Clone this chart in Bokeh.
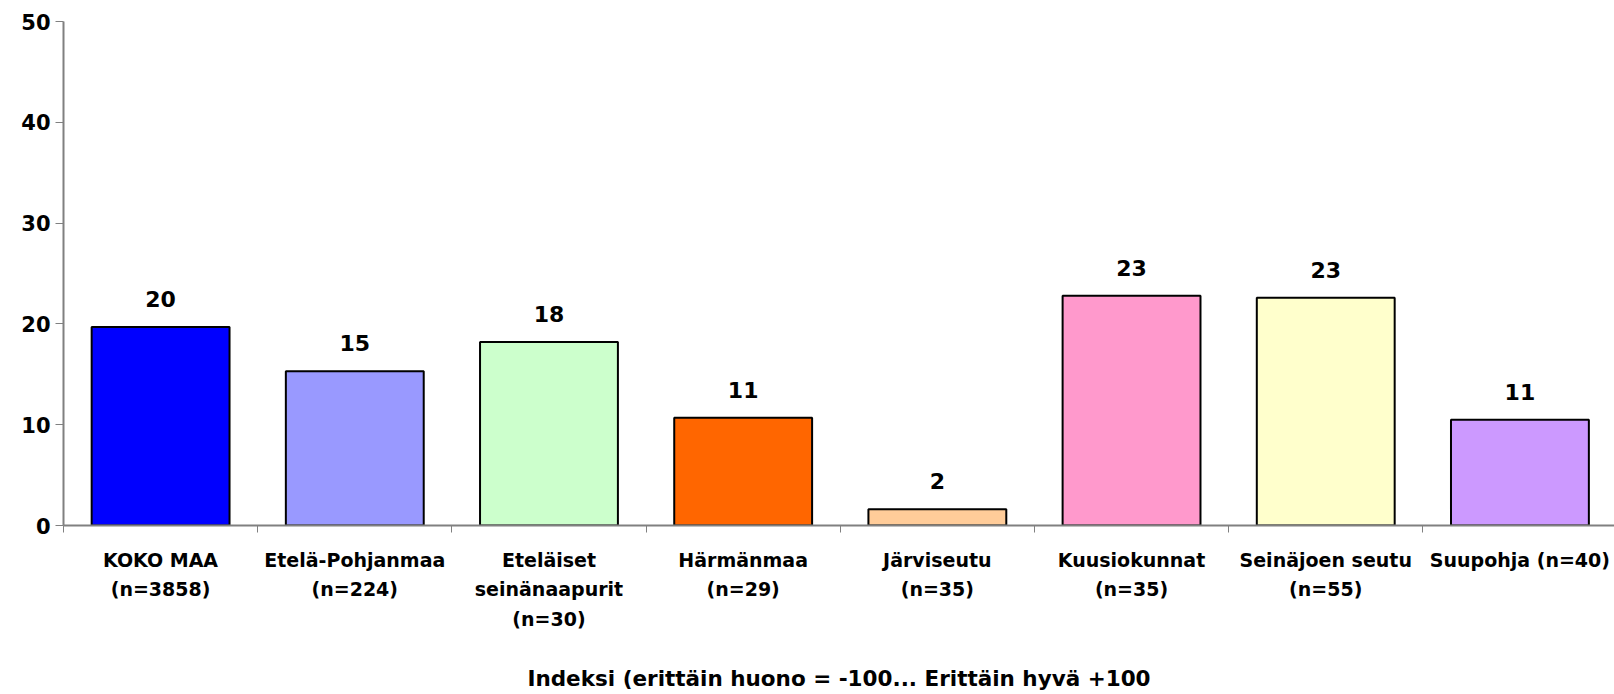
from bokeh.plotting import figure
from bokeh.models import Range1d, FixedTicker, ColumnDataSource
from bokeh.embed import file_html
from bokeh.resources import INLINE
from bokeh.core.properties import value

categories = ["KOKO MAA\n(n=3858)", "Etelä-Pohjanmaa\n(n=224)", "Eteläiset\nseinänaapurit\n(n=30)",
              "Härmänmaa\n(n=29)", "Järviseutu\n(n=35)", "Kuusiokunnat\n(n=35)",
              "Seinäjoen seutu\n(n=55)", "Suupohja (n=40)"]
values = [19.7, 15.3, 18.2, 10.7, 1.6, 22.8, 22.6, 10.5]
value_labels = ["20", "15", "18", "11", "2", "23", "23", "11"]
colors = ["#0000FF", "#9999FF", "#CCFFCC", "#FF6600", "#FFCC99", "#FF99CC", "#FFFFCC", "#CC99FF"]
y_ticks = [0, 10, 20, 30, 40, 50]
axis_title = "Indeksi (erittäin huono = -100... Erittäin hyvä +100"

positions = [i + 0.5 for i in range(len(categories))]
boundaries = list(range(len(categories) + 1))

src = ColumnDataSource(dict(x=positions, top=values, color=colors, label=value_labels))

FONT = "DejaVu Sans"
GRAY = "#808080"

p = figure(width=1614, height=694, x_range=Range1d(0, 7.987), y_range=Range1d(0, 50),
           output_backend="svg", toolbar_location=None,
           min_border_left=63, min_border_right=0, min_border_top=21, min_border_bottom=168)
p.outline_line_color = None
p.xgrid.visible = False
p.ygrid.visible = False

p.vbar(x="x", top="top", width=0.71, fill_color="color", line_color="black", line_width=2, source=src)
p.text(x="x", y="top", text="label", text_align="center", text_baseline="alphabetic", y_offset=-28,
       text_font=value(FONT), text_font_style="bold", text_font_size="22px", text_color="black", source=src)

ya = p.yaxis[0]
ya.ticker = FixedTicker(ticks=y_ticks)
ya.axis_line_color = GRAY
ya.axis_line_width = 2
ya.major_tick_line_color = GRAY
ya.major_tick_line_width = 1
ya.major_tick_out = 8
ya.major_tick_in = 0
ya.minor_tick_line_color = None
ya.major_label_standoff = 5
ya.major_label_text_font = FONT
ya.major_label_text_font_style = "bold"
ya.major_label_text_font_size = "21px"
ya.major_label_text_color = "black"

xa = p.xaxis[0]
xa.ticker = FixedTicker(ticks=positions, minor_ticks=boundaries)
xa.major_label_overrides = {pos: cat for pos, cat in zip(positions, categories)}
xa.axis_line_color = GRAY
xa.axis_line_width = 2
xa.major_tick_line_color = None
xa.major_tick_out = 0
xa.major_tick_in = 0
xa.minor_tick_line_color = GRAY
xa.minor_tick_out = 7
xa.minor_tick_in = 0
xa.major_label_standoff = 16
xa.major_label_text_font = FONT
xa.major_label_text_font_style = "bold"
xa.major_label_text_font_size = "19px"
xa.major_label_text_line_height = 1.36
xa.major_label_text_color = "black"

xa.axis_label = axis_title
xa.axis_label_standoff = 33
xa.axis_label_text_font = FONT
xa.axis_label_text_font_style = "bold"
xa.axis_label_text_font_size = "21.5px"
xa.axis_label_text_color = "black"

open("out.html", "w").write(file_html(p, INLINE))
